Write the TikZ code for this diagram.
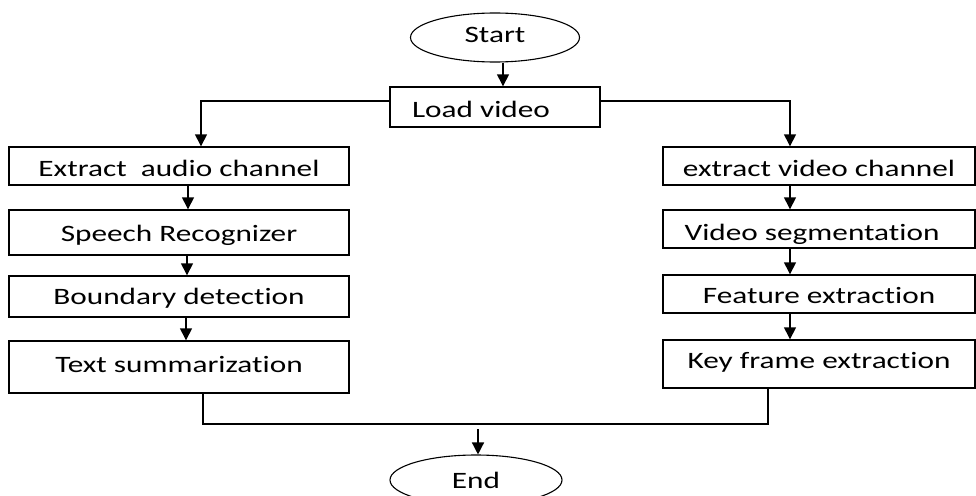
\documentclass[tikz,border=0pt]{standalone}
\usepackage{fontspec}
\setmainfont{Carlito}
\newfontfamily\labelfont[FakeStretch=1.33,RawFeature={-liga;-clig;-calt;-dlig}]{Carlito}
\usetikzlibrary{arrows.meta,shapes.geometric}
\begin{document}
\begin{tikzpicture}[x=1pt,y=-1pt,
  every node/.style={font=\labelfont\fontsize{23.5}{26}\selectfont},
  sink/.style={text height=#1,text depth=0pt},
  box/.style={draw,line width=1.4pt,rectangle,inner sep=0pt},
  term/.style={draw,line width=1.1pt,ellipse,inner sep=0pt},
  flow/.style={line width=1.4pt,-{Triangle[width=12pt,length=12pt]}},
  link/.style={line width=1.4pt}]
\useasboundingbox (0,0) rectangle (976,495);

% start / end terminals
\node[term, sink=11pt, minimum width=169pt, minimum height=49pt] (start) at (495,37.5) {Start};
\node[term, sink=16pt, minimum width=172pt, minimum height=50pt] (end) at (476,480) {End};

% loading step
\node[box, sink=20pt, minimum width=210pt, minimum height=40pt] (load) at (495,107) {Load video\hspace*{28pt}};

% audio branch
\node[box, sink=20pt, minimum width=340pt, minimum height=38pt] (audio) at (179,166) {Extract\ \ audio channel};
\node[box, sink=18pt, minimum width=340pt, minimum height=45pt] (speech) at (179,232.5) {Speech Recognizer};
\node[box, sink=16pt, minimum width=340pt, minimum height=41pt] (bound) at (179,296.5) {Boundary detection};
\node[box, sink=10pt, minimum width=340pt, minimum height=52pt] (summ) at (179,367) {Text summarization};

% video branch
\node[box, sink=20pt, minimum width=312pt, minimum height=38pt] (video) at (819,166) {extract video channel};
\node[box, sink=22pt, minimum width=312pt, minimum height=38pt] (seg) at (819,229) {Video segmentation\hspace*{14pt}};
\node[box, sink=18pt, minimum width=312pt, minimum height=38pt] (feat) at (819,294) {Feature extraction};
\node[box, sink=8pt, minimum width=312pt, minimum height=48pt] (key) at (819,364) {Key frame extraction};

% merge points
\coordinate (merge) at (478,424);
\coordinate (drop) at (478,429);

% connectors
\draw[flow] ([xshift=8pt]start.south) -- ([xshift=8pt]load.north);
\draw[flow] ([yshift=6pt]load.west) -| ([xshift=22pt]audio.north);
\draw[flow] ([yshift=6pt]load.east) -| ([xshift=-29pt]video.north);

\draw[flow] ([xshift=9pt]audio.south) -- ([xshift=9pt]speech.north);
\draw[flow] ([xshift=8pt]speech.south) -- ([xshift=8pt]bound.north);
\draw[flow] ([xshift=7pt]bound.south) -- ([xshift=7pt]summ.north);

\draw[flow] ([xshift=-29pt]video.south) -- ([xshift=-29pt]seg.north);
\draw[flow] ([xshift=-29pt]seg.south) -- ([xshift=-29pt]feat.north);
\draw[flow] ([xshift=-29pt]feat.south) -- ([xshift=-29pt]key.north);

\draw[link] ([xshift=24pt]summ.south) |- (merge) -| ([xshift=-51pt]key.south);
\draw[flow] (drop) -- ([xshift=2pt]end.north);
\end{tikzpicture}
\end{document}
